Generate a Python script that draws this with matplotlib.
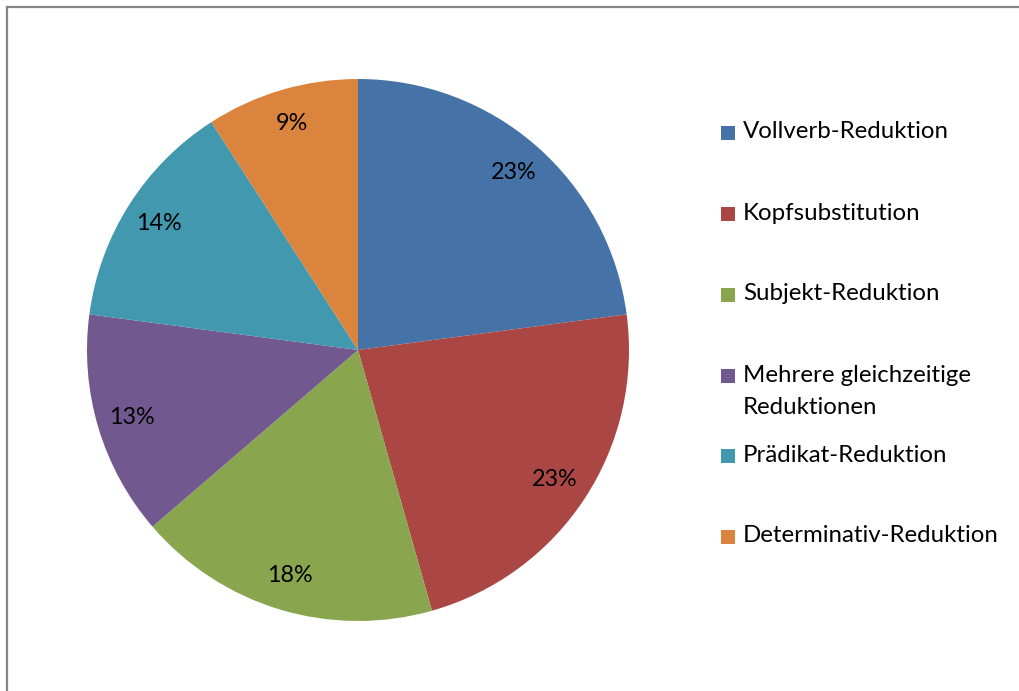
import matplotlib
matplotlib.use("Agg")
import matplotlib.pyplot as plt
from matplotlib.patches import Rectangle
from matplotlib.lines import Line2D

labels = [
    "Vollverb-Reduktion",
    "Kopfsubstitution",
    "Subjekt-Reduktion",
    "Mehrere gleichzeitige\nReduktionen",
    "Prädikat-Reduktion",
    "Determinativ-Reduktion",
]
shares = [22.9, 22.7, 18.1, 13.4, 13.8, 9.1]
colors = ["#4572A7", "#AA4643", "#89A54E", "#71588F", "#4198AF", "#DB843D"]
legend_y_px = [132, 213, 294, 375, 455, 536]

W, H = 1019, 691
plt.rcParams["font.family"] = ["Lato", "DejaVu Sans"]
FS = 17.3

fig = plt.figure(figsize=(W / 100, H / 100), dpi=100)

# pie: centre ~ (358, 350) px, radius ~ 271 px
cx, cy, r = 358, 350, 271
ax = fig.add_axes([(cx - r) / W, 1 - (cy + r) / H, 2 * r / W, 2 * r / H])
ax.pie(
    shares,
    colors=colors,
    startangle=90,
    counterclock=False,
    autopct=lambda p: f"{p:.0f}%",
    pctdistance=0.87,
    textprops={"fontsize": 16.8, "color": "black"},
    wedgeprops={"linewidth": 0},
)
ax.set_xlim(-1, 1)
ax.set_ylim(-1, 1)
ax.set_aspect("equal")

# legend drawn by hand to mimic the Excel layout
for lab, col, ypx in zip(labels, colors, legend_y_px):
    fig.patches.append(Rectangle((721 / W, 1 - (ypx + 8) / H), 14 / W, 14 / H,
                                 transform=fig.transFigure, facecolor=col, edgecolor="none"))
    if "\n" in lab:
        fig.text(743 / W, 1 - (ypx - 10) / H, lab, fontsize=FS, va="top", ha="left", linespacing=1.62)
    else:
        fig.text(743 / W, 1 - ypx / H, lab, fontsize=FS, va="center", ha="left")

# grey frame on top and left edges
fig.add_artist(Line2D([7 / W, 7 / W], [0, 1 - 7 / H], color="#868686", lw=1.6, transform=fig.transFigure))
fig.add_artist(Line2D([7 / W, 1], [1 - 7 / H, 1 - 7 / H], color="#868686", lw=1.6, transform=fig.transFigure))

fig.savefig("out.png", dpi=100, facecolor="white")
